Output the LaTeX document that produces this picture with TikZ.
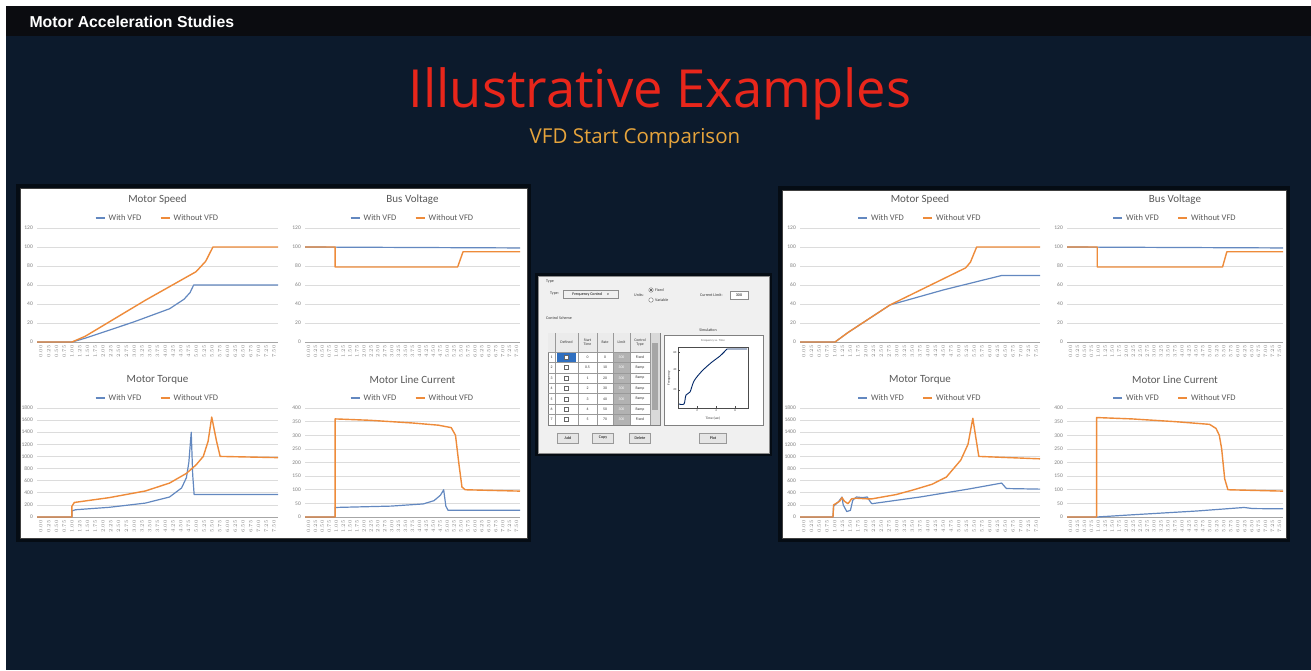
\documentclass[tikz,border=0pt]{standalone}
\usepackage{fontspec}
\setmainfont{Carlito}
\newfontfamily\slidefont{Open Sans}
\newfontfamily\barfont{Liberation Sans}
\usetikzlibrary{calc}

\definecolor{SlideNavy}{HTML}{0C1A2C}
\definecolor{BarBlack}{HTML}{0B0C10}
\definecolor{TitleRed}{HTML}{E8261B}
\definecolor{SubGold}{HTML}{E6A43C}
\definecolor{VfdBlue}{HTML}{6388C0}
\definecolor{VfdOrange}{HTML}{EE8B3A}
\definecolor{GridGray}{HTML}{DCDCDC}
\definecolor{TickGray}{HTML}{7F7F7F}
\definecolor{DlgGray}{HTML}{F0F0F0}
\definecolor{SelBlue}{HTML}{2F6FC0}

% one excel-style chart: name, x0, x1, y-bottom, y-top, intervals, step, title, title y
\newcommand{\chartframe}[9]{%
  \pgfmathsetmacro{\cmid}{(#2+#3)/2}
  \pgfmathsetmacro{\gap}{(#4-#5)/#6}
  \foreach \k in {0,...,#6}{
    \pgfmathsetmacro{\gy}{#4-\k*\gap}
    \pgfmathtruncatemacro{\gv}{\k*#7}
    \draw[gridline] (#2,\gy) -- (#3,\gy);
    \node[ytick] (#1-y\k) at (#2-4,\gy) {\gv};
  }
  \draw[axisline] (#2,#4) -- (#3,#4);
  \foreach \k in {0,...,30}{
    \pgfmathsetmacro{\tx}{#2+(\k+0.5)*(#3-#2)/31}
    \pgfmathsetmacro{\tv}{\k*0.25}
    \node[xtick] (#1-x\k) at (\tx,#4+3) {\pgfmathprintnumber[fixed,fixed zerofill,precision=2]{\tv}};
  }
  \node[charttitle] (#1-title) at (\cmid,#9) {#8};
  \node[legendtxt] (#1-with) at (\cmid-49,#9+18) {With VFD};
  \node[legendtxt] (#1-without) at (\cmid+16,#9+18) {Without VFD};
  \draw[withvfd] ($(#1-with.west)+(-13,0)$) -- ++(9,0);
  \draw[withoutvfd] ($(#1-without.west)+(-13,0)$) -- ++(9,0);
}

\begin{document}
\begin{tikzpicture}[x=1pt, y=-1pt,
  gridline/.style={GridGray, line width=0.6pt},
  axisline/.style={black!35, line width=0.7pt},
  ytick/.style={anchor=east, inner sep=0pt, TickGray, font=\fontsize{5.5}{6}\selectfont},
  xtick/.style={rotate=90, anchor=east, inner sep=0pt, TickGray, font=\fontsize{4}{4}\selectfont},
  charttitle/.style={black!65, font=\fontsize{11}{12}\selectfont},
  legendtxt/.style={anchor=west, inner sep=0pt, black!65, font=\fontsize{8.5}{9}\selectfont},
  withvfd/.style={VfdBlue, line width=1.2pt, line join=round},
  withoutvfd/.style={VfdOrange, line width=1.4pt, line join=round},
  panel/.style={fill=white, draw=black!75, line width=1pt},
  dlgtxt/.style={inner sep=0pt, black!80, font=\fontsize{4}{4.5}\selectfont},
  field/.style={draw=black!45, fill=white, inner sep=0.5pt, minimum height=8pt, font=\fontsize{4}{4.5}\selectfont},
  radiobtn/.style={circle, draw=black!60, fill=white, inner sep=0pt, minimum size=4.5pt},
  btn/.style={draw=black!40, fill=black!10, minimum width=21pt, minimum height=10pt, inner sep=0pt, font=\fontsize{4}{4.5}\selectfont},
  cell/.style={inner sep=0pt, black!80, font=\fontsize{3.8}{4}\selectfont}
]
\useasboundingbox (0,0) rectangle (1311,670);
\fill[white] (0,0) rectangle (1311,670);
\fill[SlideNavy] (6,6) rectangle (1311,670);
\fill[BarBlack] (6,6) rectangle (1311,36);

% slide header and titles
\node[anchor=west, white, font=\barfont\bfseries\fontsize{15.8}{16}\selectfont] (bar) at (26,22) {Motor Acceleration Studies};
\node[anchor=base, TitleRed, font=\slidefont\fontsize{52.5}{56}\selectfont] (title) at (660,107) {Illustrative Examples};
\node[anchor=base, SubGold, font=\slidefont\fontsize{20.5}{22}\selectfont] (subtitle) at (635,143) {VFD Start Comparison};

% chart panels
\fill[black!55!SlideNavy] (16,184) rectangle (531,542);
\fill[black!55!SlideNavy] (778,186) rectangle (1290,542);
\draw[panel] (20,188) rectangle (527,538);
\draw[panel] (782,190) rectangle (1286,538);

\chartframe{lspd}{37}{278}{342}{228}{6}{20}{Motor Speed}{200}
\chartframe{lbus}{305}{520}{342}{228}{6}{20}{Bus Voltage}{200}
\chartframe{ltrq}{37}{278}{517}{408}{9}{200}{Motor Torque}{380}
\chartframe{lcur}{305}{520}{517}{408}{8}{50}{Motor Line Current}{380}
\chartframe{rspd}{800}{1040}{342}{228}{6}{20}{Motor Speed}{200}
\chartframe{rbus}{1067}{1283}{342}{228}{6}{20}{Bus Voltage}{200}
\chartframe{rtrq}{800}{1040}{517}{408}{9}{200}{Motor Torque}{380}
\chartframe{rcur}{1067}{1283}{517}{408}{8}{50}{Motor Line Current}{380}

% left panel series
\begin{scope}[shift={(37,342)}, xscale=241, yscale=-0.95]
  \draw[withvfd] plot coordinates {(0,0) (0.145,0) (0.2,4) (0.4,21) (0.55,35) (0.61,45) (0.635,52) (0.65,60) (1,60)};
  \draw[withoutvfd] plot coordinates {(0,0) (0.145,0) (0.2,6) (0.45,44) (0.66,74) (0.70,85) (0.73,100) (1,100)};
\end{scope}
\begin{scope}[shift={(305,342)}, xscale=215, yscale=-0.95]
  \draw[withvfd] plot coordinates {(0,100) (1,99)};
  \draw[withoutvfd] plot coordinates {(0,100) (0.14,100) (0.14,79) (0.71,79) (0.735,95) (1,95)};
\end{scope}
\begin{scope}[shift={(37,517)}, xscale=241, yscale=-0.0606]
  \draw[withvfd] plot coordinates {(0,0) (0.145,0) (0.145,100) (0.16,120) (0.3,160) (0.45,230) (0.55,330) (0.6,480) (0.62,650) (0.63,900) (0.64,1400) (0.646,700) (0.652,370) (1,370)};
  \draw[withoutvfd] plot coordinates {(0,0) (0.145,0) (0.145,180) (0.155,240) (0.3,320) (0.45,430) (0.55,560) (0.62,720) (0.66,860) (0.69,1000) (0.71,1250) (0.725,1650) (0.745,1250) (0.76,1000) (1,980)};
\end{scope}
\begin{scope}[shift={(305,517)}, xscale=215, yscale=-0.2725]
  \draw[withvfd] plot coordinates {(0,0) (0.14,0) (0.14,35) (0.4,40) (0.55,48) (0.6,60) (0.63,80) (0.645,100) (0.655,40) (0.665,25) (1,25)};
  \draw[withoutvfd] plot coordinates {(0,0) (0.14,0) (0.14,360) (0.3,355) (0.5,345) (0.62,337) (0.68,328) (0.70,300) (0.715,200) (0.73,110) (0.745,100) (1,95)};
\end{scope}

% right panel series
\begin{scope}[shift={(800,342)}, xscale=240, yscale=-0.95]
  \draw[withvfd] plot coordinates {(0,0) (0.146,0) (0.2,10) (0.375,39) (0.6,55) (0.84,70) (1,70)};
  \draw[withoutvfd] plot coordinates {(0,0) (0.146,0) (0.2,10) (0.375,39) (0.69,78) (0.71,84) (0.736,100) (1,100)};
\end{scope}
\begin{scope}[shift={(1067,342)}, xscale=216, yscale=-0.95]
  \draw[withvfd] plot coordinates {(0,100) (1,99)};
  \draw[withoutvfd] plot coordinates {(0,100) (0.14,100) (0.14,79) (0.72,79) (0.74,95) (1,95)};
\end{scope}
\begin{scope}[shift={(800,517)}, xscale=240, yscale=-0.0606]
  \draw[withvfd] plot coordinates {(0,0) (0.1375,0) (0.14,180) (0.16,250) (0.175,330) (0.18,200) (0.195,90) (0.21,110) (0.22,280) (0.235,330) (0.26,320) (0.28,330) (0.295,240) (0.30,220) (0.5,330) (0.7,460) (0.84,560) (0.86,470) (1,460)};
  \draw[withoutvfd] plot coordinates {(0,0) (0.1375,0) (0.14,200) (0.165,260) (0.175,320) (0.185,260) (0.2,220) (0.215,300) (0.235,310) (0.28,300) (0.30,300) (0.40,370) (0.47,445) (0.55,540) (0.61,660) (0.67,940) (0.70,1200) (0.72,1630) (0.735,1250) (0.745,1000) (1,960)};
\end{scope}
\begin{scope}[shift={(1067,517)}, xscale=216, yscale=-0.2725]
  \draw[withvfd] plot coordinates {(0,0) (0.137,0) (0.3,8) (0.6,22) (0.82,35) (0.86,31) (1,30)};
  \draw[withoutvfd] plot coordinates {(0,0) (0.137,0) (0.137,365) (0.3,360) (0.5,350) (0.66,340) (0.69,325) (0.705,300) (0.716,250) (0.73,140) (0.745,100) (1,95)};
\end{scope}

% control scheme dialog
\fill[black!55!SlideNavy] (535,273) rectangle (772,456);
\draw[fill=DlgGray, draw=black!45] (538,276) rectangle (769,453);
\node[dlgtxt, anchor=west] (grp) at (546,282) {Type};
\node[dlgtxt, anchor=west] (typelbl) at (550,294) {Type:};
\node[field, anchor=west, minimum width=55pt, fill=black!6] (typebox) at (563,294) {Frequency Control \quad v};
\node[dlgtxt, anchor=west] (unitlbl) at (634,295) {Units:};
\node[radiobtn] (fixedrb) at (651,290) {};
\fill[black!80] (fixedrb) circle (1.2pt);
\node[dlgtxt, anchor=west] (fixedtxt) at (655,290) {Fixed};
\node[radiobtn] (varrb) at (651,300) {};
\node[dlgtxt, anchor=west] (vartxt) at (655,300) {Variable};
\node[dlgtxt, anchor=west] (limlbl) at (700,295) {Current Limit:};
\node[field, minimum width=18pt] (limbox) at (739,295) {300};
\node[dlgtxt, anchor=west] (schemelbl) at (546,318) {Control Scheme};

% scheme table
\fill[white, draw=black!50] (548,333) rectangle (660,425);
\fill[black!8] (548,333) rectangle (650,352);
\fill[black!15] (650,333) rectangle (660,425);
\fill[black!35] (652,343) rectangle (658,410);
\fill[black!30] (613,352) rectangle (630,425);
\foreach \cx in {555,578,597,613,630,650}
  \draw[black!40, line width=0.4pt] (\cx,333) -- (\cx,425);
\foreach \r in {0,...,6}
  \draw[black!40, line width=0.4pt] (548,352+\r*10.4) -- (650,352+\r*10.4);
\node[cell] (hdefn) at (566.5,342.5) {Defined};
\node[cell, align=center] (hstart) at (587.5,342.5) {Start\\Time};
\node[cell] (hrate) at (605,342.5) {Rate};
\node[cell] (hlim) at (621.5,342.5) {Limit};
\node[cell, align=center] (hctrl) at (640,342.5) {Control\\Type};
\fill[SelBlue] (557,353) rectangle (576,361.5);
\foreach \r/\st/\rt/\ct in {1/0/0/Fixed, 2/0.5/10/Ramp, 3/1/20/Ramp, 4/2/30/Ramp, 5/3/40/Ramp, 6/4/50/Ramp, 7/5/70/Fixed}{
  \pgfmathsetmacro{\ry}{352+(\r-0.5)*10.4}
  \node[cell] (row\r) at (551.5,\ry) {\r};
  \node[cell, draw=black!60, fill=white, minimum size=4pt] (chk\r) at (566.5,\ry) {};
  \node[cell] (st\r) at (587.5,\ry) {\st};
  \node[cell] (rt\r) at (605,\ry) {\rt};
  \node[cell, white] (lim\r) at (621.5,\ry) {300};
  \node[cell] (ct\r) at (640,\ry) {\ct};
}

% simulation preview
\node[dlgtxt] (simtitle) at (708,330) {Simulation};
\fill[white, draw=black!50] (664,335) rectangle (763,425);
\node[dlgtxt, font=\fontsize{3}{3}\selectfont, black!60] (simsub) at (713,341) {Frequency vs. Time};
\draw[black!70, line width=0.5pt] (678,347) rectangle (748,408);
\foreach \ty/\tl in {390/20, 370/40, 352/60}{
  \draw[black!70, line width=0.4pt] (678,\ty) -- (680,\ty);
  \node[dlgtxt, anchor=east, font=\fontsize{3}{3}\selectfont] (fq\tl) at (676.5,\ty) {\tl};
}
\foreach \tx/\tl in {697/2, 716/4, 735/6}{
  \draw[black!70, line width=0.4pt] (\tx,408) -- (\tx,406);
  \node[dlgtxt, anchor=north, font=\fontsize{3}{3}\selectfont] (tm\tl) at (\tx,409.5) {\tl};
}
\node[dlgtxt, font=\fontsize{3.5}{4}\selectfont] (simx) at (713,418) {Time (sec)};
\node[dlgtxt, rotate=90, font=\fontsize{3.5}{4}\selectfont] (simy) at (669,378) {Frequency};
\draw[black!75!green!60!blue, line width=0.9pt] plot[smooth] coordinates {(679,404) (684,404) (686,395) (690,392) (694,381) (702,371) (712,362) (720,356) (727,349)} -- (747,349);

% dialog buttons
\node[btn] (addbtn) at (568,438) {Add};
\node[btn] (copybtn) at (603,438) {Copy};
\node[btn] (delbtn) at (640,438) {Delete};
\node[btn, minimum width=27pt] (plotbtn) at (713,438) {Plot};
\end{tikzpicture}
\end{document}
